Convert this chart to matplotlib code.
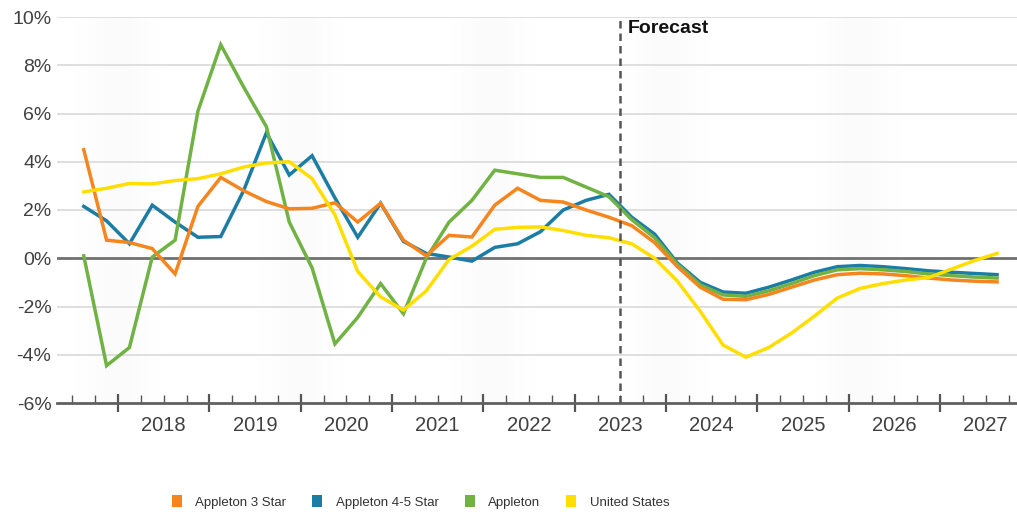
import numpy as np
import pandas as pd
import matplotlib
matplotlib.use('Agg')
import matplotlib.pyplot as plt
from matplotlib.patches import Patch
from matplotlib.transforms import blended_transform_factory

plt.rcParams['font.family'] = ['Liberation Sans', 'DejaVu Sans']

# quarterly growth, 2017Q3 .. 2027Q3
quarters = pd.period_range('2017Q3', '2027Q3', freq='Q')

star3 = [4.5, 0.75, 0.65, 0.4, -0.65, 2.15, 3.35, 2.8, 2.35, 2.05,
         2.07, 2.3, 1.5, 2.28, 0.75, 0.1, 0.95, 0.88, 2.2, 2.9,
         2.4, 2.33, 2.0, 1.7, 1.35, 0.65, -0.35, -1.2, -1.7, -1.72,
         -1.5, -1.2, -0.9, -0.68, -0.62, -0.65, -0.72, -0.82, -0.9, -0.95,
         -0.98]
star45 = [2.15, 1.55, 0.6, 2.2, 1.5, 0.87, 0.9, 2.8, 5.2, 3.45,
          4.25, 2.5, 0.87, 2.28, 0.7, 0.2, 0.05, -0.12, 0.45, 0.6,
          1.1, 2.0, 2.4, 2.65, 1.7, 1.0, -0.2, -1.0, -1.4, -1.45,
          -1.2, -0.9, -0.58, -0.35, -0.3, -0.35, -0.43, -0.52, -0.58, -0.63,
          -0.68]
appleton = [0.1, -4.45, -3.7, 0.05, 0.75, 6.1, 8.85, 7.1, 5.45, 1.5,
            -0.4, -3.55, -2.45, -1.05, -2.3, 0.0, 1.5, 2.4, 3.65, 3.5,
            3.35, 3.35, 2.95, 2.55, 1.6, 0.85, -0.25, -1.1, -1.52, -1.58,
            -1.35, -1.05, -0.72, -0.48, -0.43, -0.48, -0.55, -0.65, -0.72, -0.78,
            -0.82]
us = [2.75, 2.9, 3.1, 3.08, 3.22, 3.3, 3.5, 3.78, 3.95, 4.0,
      3.3, 1.8, -0.55, -1.6, -2.15, -1.35, -0.05, 0.5, 1.2, 1.28,
      1.3, 1.15, 0.95, 0.85, 0.6, 0.0, -0.95, -2.2, -3.6, -4.1,
      -3.7, -3.1, -2.4, -1.65, -1.25, -1.05, -0.9, -0.8, -0.45, -0.1,
      0.2]

years = list(range(2018, 2028))
forecast_start = 2023.5

names = ['Appleton 3 Star', 'Appleton 4-5 Star', 'Appleton', 'United States']
colors = ['#F5861F', '#1B7DA3', '#70B244', '#FFDE00']

# quarter midpoints on a fractional-year axis
x = np.array([q.year + (q.quarter - 0.5) / 4 for q in quarters])

fig = plt.figure(figsize=(10.17, 5.14), dpi=100)
ax = fig.add_axes([57 / 1017, 1 - 403 / 514, 960 / 1017, 386 / 514])
x0, x1 = 2017.332, 2027.843
ax.set_xlim(x0, x1)
ax.set_ylim(-6, 10)

# soft shaded bands in the background
bx = np.linspace(x0, x1, 800)
shade = np.zeros_like(bx)
for c in [2018.0, 2020.0, 2022.1, 2024.0, 2026.1]:
    shade += np.exp(-0.5 * ((bx - c) / 0.22) ** 2)
ax.imshow(shade[None, :] * 0.035, cmap='Greys', vmin=0, vmax=1, aspect='auto',
          extent=[x0, x1, -6, 10], zorder=0, interpolation='bilinear')

for v in range(-4, 11, 2):
    if v != 0:
        ax.axhline(v, color='#dcdcdc', lw=1.3, zorder=1)
ax.axhline(0, color='#707070', lw=2, zorder=1)

order = [4, 2, 3, 5]
for vals, c, n, z in zip([star3, star45, appleton, us], colors, names, order):
    ax.plot(x, vals, color=c, lw=2.5, label=n, zorder=z, solid_joinstyle='miter')

ax.axvline(forecast_start, color='#555555', lw=1.8, ls=(0, (3, 2)), zorder=6)
ax.annotate('Forecast', (forecast_start, 10), xytext=(5, -8), textcoords='offset points',
            fontsize=14, fontweight='bold', color='#111111', va='center', ha='left')

for s in ['top', 'right', 'left']:
    ax.spines[s].set_visible(False)
ax.spines['bottom'].set_color('#606060')
ax.spines['bottom'].set_linewidth(2)

ax.set_yticks(range(-6, 11, 2))
ax.set_yticklabels([f'{v}%' for v in range(-6, 11, 2)])
ax.tick_params(axis='y', length=0, pad=4, labelsize=14, labelcolor='#404040')

ax.set_xticks(years)
ax.set_xticklabels([])
ax.set_xticks(np.arange(2017.5, 2027.8, 0.25), minor=True)
ax.tick_params(axis='x', which='major', direction='inout', length=13, width=1.6, color='#555555')
ax.tick_params(axis='x', which='minor', direction='in', length=5.5, width=1, color='#555555')

trans = blended_transform_factory(ax.transData, ax.transAxes)
for yr in years:
    ax.text(yr + 0.5, -0.058, str(yr), transform=trans, ha='center', va='center',
            fontsize=14.5, color='#404040')

handles = [Patch(facecolor=c, edgecolor='none') for c in colors]
fig.legend(handles, names, loc='center left', bbox_to_anchor=(172 / 1017, 12 / 514),
           ncol=4, frameon=False, fontsize=9.5, handlelength=0.75, handleheight=1.0,
           handletextpad=1.0, columnspacing=2.0, borderpad=0, borderaxespad=0,
           labelcolor='#333333')

fig.savefig('out.png', dpi=100)
